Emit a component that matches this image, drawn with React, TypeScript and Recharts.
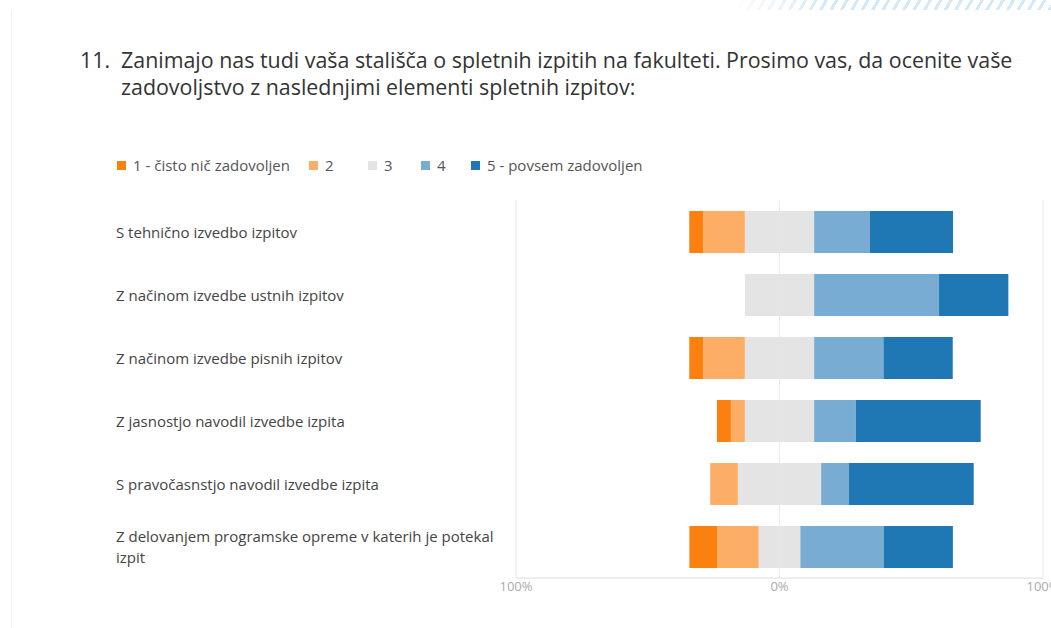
import React from "react";
import {
  BarChart,
  Bar,
  XAxis,
  YAxis,
  CartesianGrid,
} from "recharts";

// Share of answers (%) per statement, for each rating 1..5
const statements = [
  "S tehnično izvedbo izpitov",
  "Z načinom izvedbe ustnih izpitov",
  "Z načinom izvedbe pisnih izpitov",
  "Z jasnostjo navodil izvedbe izpita",
  "S pravočasnstjo navodil izvedbe izpita",
  "Z delovanjem programske opreme v katerih je potekal izpit",
];
const rating1 = [5.3, 0, 5.3, 5.3, 0, 10.5];
const rating2 = [15.8, 0, 15.8, 5.3, 10.5, 15.8];
const rating3 = [26.3, 26.3, 26.3, 26.3, 31.6, 15.8];
const rating4 = [21.1, 47.4, 26.3, 15.8, 10.5, 31.6];
const rating5 = [31.6, 26.3, 26.3, 47.4, 47.4, 26.3];

const legendLabels = ["1 - čisto nič zadovoljen", "2", "3", "4", "5 - povsem zadovoljen"];
const axisTicks = [-100, 0, 100];

const COLORS = ["#fb800f", "#fcad66", "#e4e4e4", "#78acd3", "#1f77b4"];
const FONT = '"Segoe UI", "Open Sans", "Noto Sans", sans-serif';

// diverging layout: neutral split around 0, negatives stack to the left
const data = statements.map((label, i) => ({
  label,
  r3L: -rating3[i] / 2,
  r3R: rating3[i] / 2,
  r2: -rating2[i],
  r4: rating4[i],
  r1: -rating1[i],
  r5: rating5[i],
}));

const MARGIN = { top: 200, right: 8, bottom: 20, left: 116 };

function wrap(text: string, max: number) {
  const lines: string[] = [];
  let cur = "";
  for (const w of text.split(" ")) {
    const next = cur ? cur + " " + w : w;
    if (next.length > max && cur) {
      lines.push(cur);
      cur = w;
    } else cur = next;
  }
  if (cur) lines.push(cur);
  return lines;
}

function LabelTick(props: any) {
  const { y, payload } = props;
  const lines = wrap(String(payload.value), 52);
  const lh = 21;
  const start = y - ((lines.length - 1) * lh) / 2;
  return (
    <text
      x={MARGIN.left}
      y={start}
      fill="#444"
      fontSize={15}
      fontFamily={FONT}
      textAnchor="start"
      dominantBaseline="central"
    >
      {lines.map((l, k) => (
        <tspan key={k} x={MARGIN.left} y={start + k * lh}>
          {l}
        </tspan>
      ))}
    </text>
  );
}

const legendLefts = [117, 309, 368, 421, 471];

export default function App() {
  return (
    <div
      style={{
        position: "absolute",
        left: 0,
        top: 0,
        width: 1051,
        height: 628,
        background: "#fff",
        overflow: "hidden",
        fontFamily: FONT,
      }}
    >
      {/* decorative stripes top right */}
      <div
        style={{
          position: "absolute",
          left: 730,
          top: 0,
          width: 321,
          height: 10,
          background:
            "repeating-linear-gradient(-60deg, #d3e9f8 0px, #d3e9f8 3px, #fff 3px, #fff 9px)",
          WebkitMaskImage: "linear-gradient(to right, transparent, #000 30%)",
          maskImage: "linear-gradient(to right, transparent, #000 30%)",
        }}
      />
      {/* card left border */}
      <div
        style={{
          position: "absolute",
          left: 11,
          top: 11,
          width: 1,
          height: 617,
          background: "#efefef",
        }}
      />

      <div
        style={{
          position: "absolute",
          left: 80,
          top: 46,
          fontSize: 21.4,
          lineHeight: "27px",
          color: "#333",
          display: "flex",
          whiteSpace: "nowrap",
        }}
      >
        <span style={{ width: 41 }}>11.</span>
        <span>
          Zanimajo nas tudi vaša stališča o spletnih izpitih na fakulteti. Prosimo vas, da ocenite vaše
          <br />
          zadovoljstvo z naslednjimi elementi spletnih izpitov:
        </span>
      </div>

      {legendLabels.map((l, i) => (
        <div
          key={l}
          style={{
            position: "absolute",
            left: legendLefts[i],
            top: 155,
            height: 20,
            display: "flex",
            alignItems: "center",
            fontSize: 15,
            color: "#555",
            whiteSpace: "nowrap",
          }}
        >
          <span
            style={{
              width: 9,
              height: 9,
              background: COLORS[i],
              marginRight: 7,
              display: "inline-block",
            }}
          />
          {l}
        </div>
      ))}

      <div style={{ position: "absolute", left: 0, top: 0 }}>
        <BarChart
          width={1051}
          height={628}
          data={data}
          layout="vertical"
          stackOffset="sign"
          margin={MARGIN}
          barSize={42}
        >
          <CartesianGrid
            horizontal={false}
            vertical
            stroke="#e9e9e9"
            verticalValues={axisTicks}
          />
          <XAxis
            type="number"
            domain={[-100, 100]}
            ticks={axisTicks}
            tickFormatter={(v: number) => `${Math.abs(v)}%`}
            axisLine={{ stroke: "#dcdcdc" }}
            tickLine={false}
            tick={{ fill: "#aaa", fontSize: 13, fontFamily: FONT, dy: -4 }}
            height={30}
            interval={0}
          />
          <YAxis
            type="category"
            dataKey="label"
            width={400}
            axisLine={false}
            tickLine={false}
            tick={<LabelTick />}
            interval={0}
          />
          <Bar dataKey="r3L" stackId="s" fill={COLORS[2]} isAnimationActive={false} />
          <Bar dataKey="r3R" stackId="s" fill={COLORS[2]} isAnimationActive={false} />
          <Bar dataKey="r2" stackId="s" fill={COLORS[1]} isAnimationActive={false} />
          <Bar dataKey="r4" stackId="s" fill={COLORS[3]} isAnimationActive={false} />
          <Bar dataKey="r1" stackId="s" fill={COLORS[0]} isAnimationActive={false} />
          <Bar dataKey="r5" stackId="s" fill={COLORS[4]} isAnimationActive={false} />
        </BarChart>
      </div>
    </div>
  );
}
